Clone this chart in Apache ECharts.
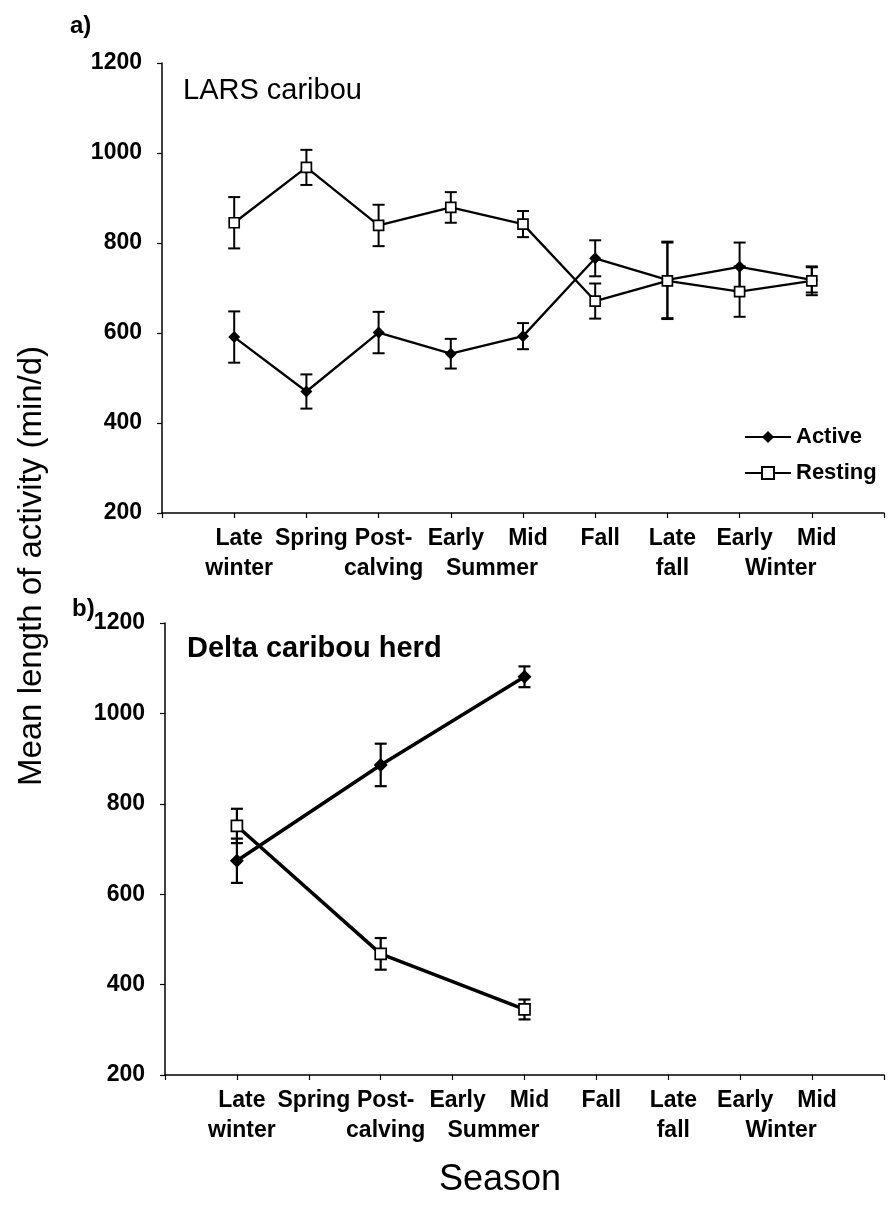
<!DOCTYPE html>
<html>
<head>
<meta charset="utf-8">
<script src="https://cdn.jsdelivr.net/npm/echarts@6/dist/echarts.min.js"></script>
<style>
  html, body { margin: 0; padding: 0; background: #fff; }
  #chart { width: 892px; height: 1208px; }
</style>
</head>
<body>
<div id="chart"></div>
<script>
// Seasons in order along the x axis (position = index + 1)
const seasons = ['Late winter', 'Spring', 'Post-calving', 'Early Summer', 'Mid Summer',
                 'Fall', 'Late fall', 'Early Winter', 'Mid Winter'];
// First (and second) line of each season tick label
const seasonTicks = ['Late\nwinter', 'Spring', 'Post-\ncalving', 'Early', 'Mid',
                     'Fall', 'Late\nfall', 'Early', 'Mid'];
// Shared second-line words placed between two ticks
const sharedWordPos = [4.5, 8.5];
const sharedWordText = ['Summer', 'Winter'];
const yTicks = [200, 400, 600, 800, 1000, 1200];

// a) LARS caribou: mean minutes per day and error half-widths
const larsActive     = [591, 470, 601, 554, 593, 766, 718, 747, 718];
const larsActiveErr  = [57, 38, 46, 33, 29, 40, 85, 54, 28];
const larsResting    = [845, 968, 839, 879, 842, 671, 716, 692, 716];
const larsRestingErr = [57, 39, 46, 34, 29, 39, 85, 56, 32];

// b) Delta caribou herd (three seasons sampled)
const deltaSeasons    = ['Late winter', 'Post-calving', 'Mid Summer'];
const deltaActive     = [674, 886, 1081];
const deltaActiveErr  = [49, 47, 23];
const deltaResting    = [751, 468, 345];
const deltaRestingErr = [38, 35, 22];

const FONT = '"Liberation Sans", Arial, Helvetica, sans-serif';
const BLACK = '#000';

const pos = name => seasons.indexOf(name) + 1;
const larsX = seasons.map(pos);
const deltaX = deltaSeasons.map(pos);

function pairs(xs, ys) { return xs.map((x, i) => [x, ys[i]]); }
function triples(xs, ys, es) { return xs.map((x, i) => [x, ys[i], es[i]]); }

// Vertical error bars with short horizontal caps
function errorBars(gridIdx, data, width) {
  return {
    type: 'custom',
    xAxisIndex: gridIdx * 2,
    yAxisIndex: gridIdx,
    z: 2,
    silent: true,
    clip: false,
    encode: { x: 0, y: 1 },
    data: data,
    renderItem: function (params, api) {
      const x = api.value(0), y = api.value(1), e = api.value(2);
      const hi = api.coord([x, y + e]);
      const lo = api.coord([x, y - e]);
      const cap = 6;
      const style = { stroke: BLACK, lineWidth: width };
      return {
        type: 'group',
        children: [
          { type: 'line', shape: { x1: hi[0], y1: hi[1], x2: lo[0], y2: lo[1] }, style: style },
          { type: 'line', shape: { x1: hi[0] - cap, y1: hi[1], x2: hi[0] + cap, y2: hi[1] }, style: style },
          { type: 'line', shape: { x1: lo[0] - cap, y1: lo[1], x2: lo[0] + cap, y2: lo[1] }, style: style }
        ]
      };
    }
  };
}

function lineSeries(gridIdx, name, data, isActive, lw, size) {
  return {
    type: 'line',
    name: name,
    xAxisIndex: gridIdx * 2,
    yAxisIndex: gridIdx,
    z: 3,
    data: data,
    symbol: isActive ? 'diamond' : 'rect',
    symbolSize: size,
    showAllSymbol: true,
    lineStyle: { color: BLACK, width: lw },
    itemStyle: isActive
      ? { color: BLACK, borderColor: BLACK, borderWidth: 0 }
      : { color: '#fff', borderColor: BLACK, borderWidth: 1.7 },
    emphasis: { disabled: true },
    animation: false
  };
}

const labelFont = { fontFamily: FONT, fontWeight: 'bold', fontSize: 23, color: BLACK };

function mainX(gridIdx) {
  return {
    gridIndex: gridIdx, type: 'value', position: 'bottom', min: 0, max: 10, interval: 1,
    axisLine: { show: true, onZero: false, lineStyle: { color: BLACK, width: 1.5 } },
    axisTick: { show: true, length: 5, lineStyle: { color: BLACK, width: 1.2 } },
    splitLine: { show: false },
    axisLabel: Object.assign({
      margin: 11, lineHeight: 30, padding: [0, 0, 0, 10],
      formatter: v => seasonTicks[v - 1] || ''
    }, labelFont)
  };
}
function sharedX(gridIdx) {
  return {
    gridIndex: gridIdx, type: 'value', position: 'bottom', min: 0, max: 10, interval: 0.5,
    axisLine: { show: false }, axisTick: { show: false }, splitLine: { show: false },
    axisLabel: Object.assign({
      margin: 41, lineHeight: 30, padding: [0, 0, 0, 10],
      formatter: v => { const i = sharedWordPos.indexOf(v); return i >= 0 ? sharedWordText[i] : ''; }
    }, labelFont)
  };
}
function yAx(gridIdx) {
  return {
    gridIndex: gridIdx, type: 'value', min: yTicks[0], max: yTicks[yTicks.length - 1], interval: 200,
    axisLine: { show: true, lineStyle: { color: BLACK, width: 1.5 } },
    axisTick: { show: true, length: 5, lineStyle: { color: BLACK, width: 1.2 } },
    splitLine: { show: false },
    axisLabel: Object.assign({ margin: 20, padding: [0, 0, 12, 0], formatter: v => String(v) }, labelFont)
  };
}

const option = {
  backgroundColor: '#fff',
  animation: false,
  grid: [
    { left: 162, top: 63, width: 733, height: 450 },
    { left: 165, top: 623, width: 733, height: 452 }
  ],
  xAxis: [mainX(0), sharedX(0), mainX(1), sharedX(1)],
  yAxis: [yAx(0), yAx(1)],
  legend: {
    data: ['Active', 'Resting'],
    orient: 'vertical',
    left: 739, top: 419,
    itemWidth: 46, itemHeight: 15, itemGap: 10,
    selectedMode: false,
    textStyle: { fontFamily: FONT, fontWeight: 'bold', fontSize: 22, color: BLACK, lineHeight: 26 }
  },
  series: [
    errorBars(0, triples(larsX, larsActive, larsActiveErr), 2),
    errorBars(0, triples(larsX, larsResting, larsRestingErr), 2),
    lineSeries(0, 'Active', pairs(larsX, larsActive), true, 2.3, 12),
    lineSeries(0, 'Resting', pairs(larsX, larsResting), false, 2.3, 10),
    errorBars(1, triples(deltaX, deltaActive, deltaActiveErr), 2.2),
    errorBars(1, triples(deltaX, deltaResting, deltaRestingErr), 2.2),
    lineSeries(1, 'Active', pairs(deltaX, deltaActive), true, 3.5, 14),
    lineSeries(1, 'Resting', pairs(deltaX, deltaResting), false, 3.5, 11)
  ],
  graphic: [
    { type: 'text', left: 70, top: 14, style: { text: 'a)', font: 'bold 24px ' + FONT, fill: BLACK } },
    { type: 'text', left: 72, top: 597, style: { text: 'b)', font: 'bold 24px ' + FONT, fill: BLACK } },
    { type: 'text', left: 183, top: 76, style: { text: 'LARS caribou', font: '29px ' + FONT, fill: BLACK } },
    { type: 'text', left: 187, top: 634, style: { text: 'Delta caribou herd', font: 'bold 29px ' + FONT, fill: BLACK } },
    { type: 'text', x: 32, y: 566, rotation: Math.PI / 2,
      style: { text: 'Mean length of activity (min/d)', font: '33px ' + FONT, fill: BLACK,
               textAlign: 'center', textVerticalAlign: 'middle' } },
    { type: 'text', x: 500, y: 1180,
      style: { text: 'Season', font: '36px ' + FONT, fill: BLACK,
               textAlign: 'center', textVerticalAlign: 'middle' } }
  ]
};

const chart = echarts.init(document.getElementById('chart'), null, { renderer: 'canvas' });
chart.setOption(option);
</script>
</body>
</html>
